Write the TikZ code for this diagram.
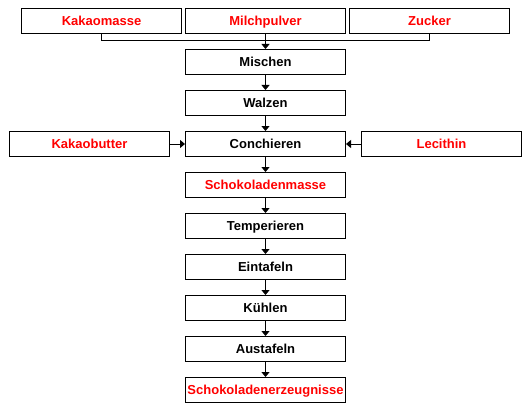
\documentclass[tikz,border=0pt]{standalone}
\usepackage{fontspec}
\setmainfont{Liberation Sans}
\usetikzlibrary{arrows.meta}
\begin{document}
\begin{tikzpicture}[x=1pt,y=-1pt,
  box/.style={draw=black,line width=1pt,minimum width=160pt,minimum height=25pt,inner sep=0pt,text height=9.3pt,text depth=0pt,font=\fontsize{13}{15}\selectfont\bfseries},
  red/.style={text={rgb,255:red,255;green,0;blue,0}},
  conn/.style={draw=black,line width=1pt},
  arr/.style={conn,-{Triangle[length=5pt,width=8pt]}}]
\useasboundingbox (0,0) rectangle (532,417);
\node[box,red] (ka) at (101.5,21) {Kakaomasse};
\node[box,red] (mp) at (265.5,21) {Milchpulver};
\node[box,red] (zu) at (429.5,21) {Zucker};
\node[box] (mi) at (265.5,62) {Mischen};
\node[box] (wa) at (265.5,103) {Walzen};
\node[box] (co) at (265.5,144) {Conchieren};
\node[box,red] (kb) at (89.5,144) {Kakaobutter};
\node[box,red] (le) at (441.5,144) {Lecithin};
\node[box,red] (sm) at (265.5,185) {Schokoladenmasse};
\node[box] (te) at (265.5,226) {Temperieren};
\node[box] (ei) at (265.5,267) {Eintafeln};
\node[box] (ku) at (265.5,308) {Kühlen};
\node[box] (au) at (265.5,349) {Austafeln};
\node[box,red] (se) at (265.5,390) {Schokoladenerzeugnisse};
\coordinate (j) at (265.5,40.5);
\draw[conn] (ka.south) |- (j) -| (zu.south);
\draw[conn] (mp.south) -- (j);
\draw[arr] (j) -- (mi.north);
\draw[arr] (mi) -- (wa);
\draw[arr] (wa) -- (co);
\draw[arr] (co) -- (sm);
\draw[arr] (sm) -- (te);
\draw[arr] (te) -- (ei);
\draw[arr] (ei) -- (ku);
\draw[arr] (ku) -- (au);
\draw[arr] (au) -- (se);
\draw[arr] (kb) -- (co);
\draw[arr] (le) -- (co);
\end{tikzpicture}
\end{document}
